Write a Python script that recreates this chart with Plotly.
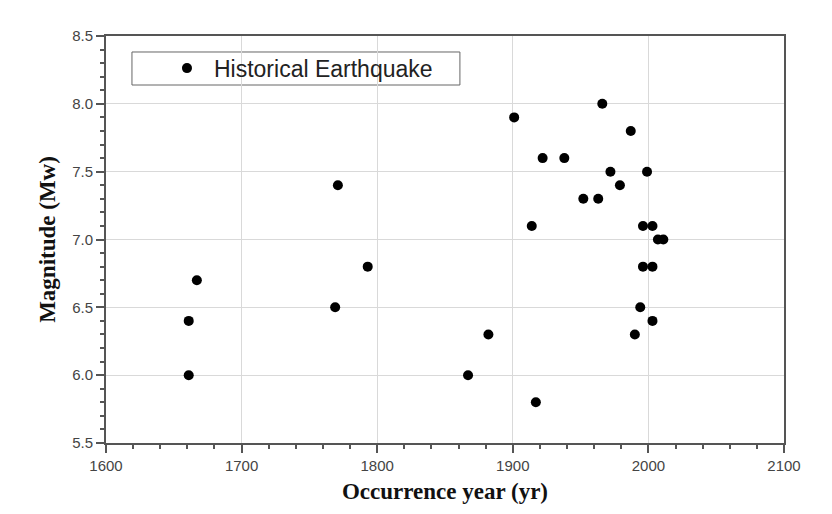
import plotly.graph_objects as go

years = [1661, 1661, 1667, 1769, 1771, 1793, 1867, 1882, 1901, 1914, 1917,
         1922, 1938, 1952, 1963, 1966, 1972, 1979, 1987, 1990, 1994, 1996,
         1996, 1999, 2003, 2003, 2003, 2007, 2011]
magnitudes = [6.0, 6.4, 6.7, 6.5, 7.4, 6.8, 6.0, 6.3, 7.9, 7.1, 5.8,
              7.6, 7.6, 7.3, 7.3, 8.0, 7.5, 7.4, 7.8, 6.3, 6.5, 7.1,
              6.8, 7.5, 7.1, 6.8, 6.4, 7.0, 7.0]
series_name = "Historical Earthquake"
x_title = "Occurrence year (yr)"
y_title = "Magnitude (Mw)"

fig = go.Figure()
fig.add_trace(go.Scatter(
    x=years, y=magnitudes, mode="markers", name=series_name,
    marker=dict(color="black", size=10),
))

axis_common = dict(
    showline=True, linecolor="#555555", linewidth=2, mirror=True,
    showgrid=True, gridcolor="#d9d9d9", gridwidth=1,
    ticks="outside", tickcolor="#555555", tickwidth=1.5, ticklen=8,
    tickfont=dict(family="Liberation Sans, Arial", size=15, color="#444444"),
    zeroline=False, automargin=False,
)
title_font = dict(family="Liberation Serif, Times New Roman", size=23, color="#111111", weight="bold")

fig.update_xaxes(
    range=[1600, 2100], dtick=100, tick0=1600,
    minor=dict(dtick=20, ticks="outside", ticklen=4, tickcolor="#555555", showgrid=False),
    title=dict(text=x_title, font=title_font, standoff=10),
    **axis_common,
)
fig.update_yaxes(
    range=[5.5, 8.5], dtick=0.5, tick0=5.5, tickformat=".1f",
    minor=dict(dtick=0.1, ticks="outside", ticklen=4, tickcolor="#555555", showgrid=False),
    title=dict(text=y_title, font=title_font, standoff=10),
    **axis_common,
)

# legend frame
fig.add_shape(type="rect", xref="paper", yref="paper",
              x0=0.0383, x1=0.522, y0=0.8796, y1=0.9607,
              line=dict(color="#666666", width=1), fillcolor="white", layer="below")

fig.update_layout(
    width=824, height=506,
    margin=dict(l=98, r=48, t=28, b=71),
    plot_bgcolor="white", paper_bgcolor="white",
    showlegend=True,
    legend=dict(
        x=0.0796, y=0.921, xanchor="left", yanchor="middle",
        bgcolor="rgba(0,0,0,0)", borderwidth=0,
        font=dict(family="Liberation Sans, Arial", size=23, color="#222222"),
        itemwidth=44,
    ),
)

fig.write_html("out.html")
